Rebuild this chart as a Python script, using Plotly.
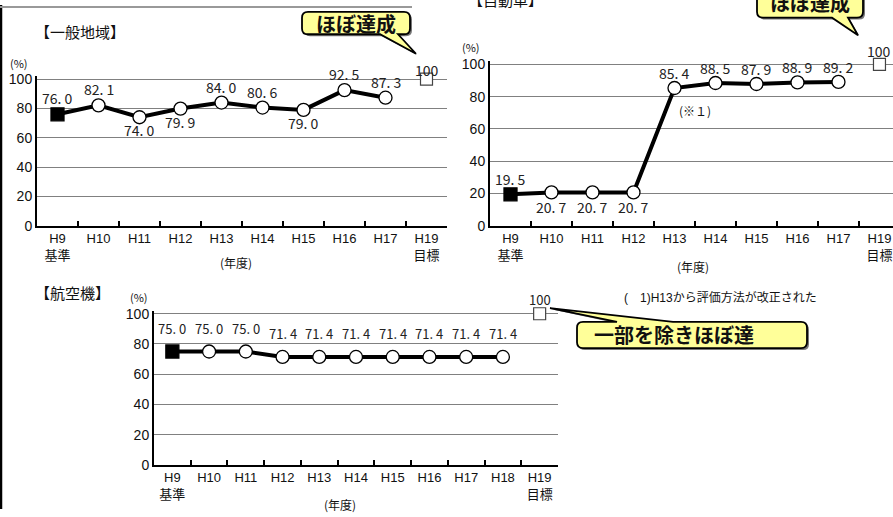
import plotly.graph_objects as go

W, H = 893, 517

# ---------------- data ----------------
cats_a = ["H9<br>基準", "H10", "H11", "H12", "H13", "H14", "H15", "H16", "H17", "H19<br>目標"]
cats_c = ["H9<br>基準", "H10", "H11", "H12", "H13", "H14", "H15", "H16", "H17", "H18", "H19<br>目標"]

ippan_vals = [76.0, 82.1, 74.0, 79.9, 84.0, 80.6, 79.0, 92.5, 87.3]
jidosha_vals = [19.5, 20.7, 20.7, 20.7, 85.4, 88.5, 87.9, 88.9, 89.2]
koku_vals = [75.0, 75.0, 75.0, 71.4, 71.4, 71.4, 71.4, 71.4, 71.4, 71.4]
target_val = 100

# label side: 1 above, -1 below
ippan_side = [1, 1, -1, -1, 1, 1, -1, 1, 1]
jidosha_side = [1, -1, -1, -1, 1, 1, 1, 1, 1]
koku_side = [1] * 10

titles = ["【一般地域】", "【自動車】", "【航空機】"]
callouts = ["ほぼ達成", "ほぼ達成", "一部を除きほぼ達"]
note_text = "(　1)H13から評価方法が改正された"
note_mark = "(※１)"


def px(x):
    return x / W


def py(y):
    return 1 - y / H


fig = go.Figure()

tick_font = dict(family="Liberation Sans, Noto Sans CJK JP", size=13, color="#111")

annotations = []
shapes = []

YMAX = 102.0

panels = [
    # cats, vals, side, xaxis, yaxis, xdom(px), ydom(px y100, y0), xrange, shift, target shift, label size
    (cats_a, ippan_vals, ippan_side, "x", "y", (37, 447), (76, 226.5), None, (16, -13), 9, 14),
    (cats_a, jidosha_vals, jidosha_side, "x2", "y2", (490, 893), (61, 226.5), (-0.5, 9.33), (15, -15), 13, 14),
    (cats_c, koku_vals, koku_side, "x3", "y3", (154, 558), (316.7, 471.7), None, (23, -15), 14, 13),
]

for i, (cats, vals, side, xa, ya, xd, yd, xr, shift, tshift, lsize) in enumerate(panels):
    label_font = dict(family="Noto Sans CJK JP", size=lsize, color="#222")
    n = len(vals)
    symbols = ["square"] + ["circle"] * (n - 1)
    colors = ["black"] + ["white"] * (n - 1)
    fig.add_trace(go.Scatter(
        x=cats[:n], y=vals, xaxis=xa, yaxis=ya, mode="lines+markers",
        line=dict(color="black", width=4),
        marker=dict(symbol=symbols, color=colors, size=13,
                    line=dict(color="black", width=1.3)),
        cliponaxis=False, showlegend=False, hoverinfo="skip"))
    fig.add_trace(go.Scatter(
        x=[cats[-1]], y=[target_val], xaxis=xa, yaxis=ya, mode="markers",
        marker=dict(symbol="square", color="white", size=12,
                    line=dict(color="#444", width=1.2)),
        cliponaxis=False, showlegend=False, hoverinfo="skip"))
    for c, v, s in zip(cats, vals, side):
        annotations.append(dict(x=c, y=v, xref=xa, yref=ya, text=f"{v:.1f}".replace(".", ". "),
                                showarrow=False, yshift=shift[0] if s > 0 else shift[1],
                                font=label_font))
    annotations.append(dict(x=cats[-1], y=target_val, xref=xa, yref=ya, text=str(target_val),
                            showarrow=False, yshift=tshift, font=label_font))

    y100, y0 = yd
    ytop = y0 - (y0 - y100) * YMAX / 100.0
    suffix = "" if i == 0 else str(i + 1)
    fig.layout["xaxis" + suffix] = dict(
        domain=[px(xd[0]), min(1, px(xd[1]))], anchor=ya, type="category",
        categoryorder="array", categoryarray=cats,
        range=list(xr) if xr else [-0.5, len(cats) - 0.5],
        tickson="boundaries", ticks="inside", ticklen=5, tickwidth=2, tickcolor="black",
        showline=True, linecolor="black", linewidth=2, showgrid=False, zeroline=False,
        tickfont=tick_font, fixedrange=True)
    fig.layout["yaxis" + suffix] = dict(
        domain=[py(y0), py(ytop)], anchor=xa, range=[0, YMAX],
        tickvals=[0, 20, 40, 60, 80, 100], showgrid=True, gridcolor="#808080", gridwidth=1,
        showline=True, linecolor="black", linewidth=2, zeroline=False, ticks="",
        tickfont=dict(family="Liberation Sans", size=14, color="#111"), fixedrange=True)


def txt(x, y, t, size=13, bold=False, family="Noto Sans CJK JP", xanchor="center"):
    annotations.append(dict(x=px(x), y=py(y), xref="paper", yref="paper", text=f"<b>{t}</b>" if bold else t,
                            showarrow=False, xanchor=xanchor, yanchor="middle",
                            font=dict(family=family, size=size, color="#111")))


# titles
txt(33, 27, titles[0], size=15, xanchor="left")
txt(466, -6, titles[1], size=15, xanchor="left")
txt(33, 295, titles[2], size=15, xanchor="left")

# (%) labels
txt(19, 59, "(%)", size=11)
txt(471, 43, "(%)", size=11)
txt(139, 300, "(%)", size=11)

# (年度)
txt(236, 264, "(年度)", size=12)
txt(693, 268, "(年度)", size=12)
txt(340, 512, "(年度)", size=12)

# notes
txt(695, 108, note_mark, size=12)
txt(622, 300, note_text, size=12, family="Liberation Sans, Noto Sans CJK JP", xanchor="left")


def bubble(x0, y0, x1, y1, pointer, r=6, edge="bottom"):
    b1, b2, tip = pointer
    P = lambda x, y: f"{px(x):.5f},{py(y):.5f}"
    d = f"M{P(x0 + r, y0)} "
    if edge == "top":
        d += f"L{P(b1, y0)} L{P(*tip)} L{P(b2, y0)} "
    d += f"L{P(x1 - r, y0)} Q{P(x1, y0)} {P(x1, y0 + r)} L{P(x1, y1 - r)} Q{P(x1, y1)} {P(x1 - r, y1)} "
    if edge == "bottom":
        d += f"L{P(b2, y1)} L{P(*tip)} L{P(b1, y1)} "
    d += f"L{P(x0 + r, y1)} Q{P(x0, y1)} {P(x0, y1 - r)} L{P(x0, y0 + r)} Q{P(x0, y0)} {P(x0 + r, y0)} Z"
    return d


bubbles = [
    (302, 7, 410, 30, (380, 398, (416, 50)), "bottom"),
    (757, -15, 863, 13, (832, 848, (858, 31)), "bottom"),
    (577, 325, 807, 352, (617, 673, (550, 311)), "top"),
]
for x0, y0, x1, y1, ptr, edge in bubbles:
    shapes.append(dict(type="path", xref="paper", yref="paper",
                       path=bubble(x0 + 2, y0 + 2, x1 + 2, y1 + 2,
                                   (ptr[0] + 2, ptr[1] + 2, (ptr[2][0] + 1, ptr[2][1] + 1)), edge=edge),
                       fillcolor="#777", line=dict(width=0), layer="above"))
    shapes.append(dict(type="path", xref="paper", yref="paper", path=bubble(x0, y0, x1, y1, ptr, edge=edge),
                       fillcolor="#FFFF99", line=dict(color="black", width=1.8), layer="above"))

txt(356, 19, callouts[0], size=20, bold=True)
txt(810, -3, callouts[1], size=20, bold=True)
txt(592, 338, callouts[2], size=20, bold=True, xanchor="left")

# page frame lines
shapes.append(dict(type="line", xref="paper", yref="paper", x0=px(1), x1=px(1), y0=0, y1=1,
                   line=dict(color="black", width=2.5)))
shapes.append(dict(type="line", xref="paper", yref="paper", x0=0, x1=px(412), y0=py(2), y1=py(2),
                   line=dict(color="#999", width=2)))

fig.update_layout(width=W, height=H, margin=dict(l=0, r=0, t=0, b=0),
                  paper_bgcolor="white", plot_bgcolor="white",
                  annotations=annotations, shapes=shapes, showlegend=False)

fig.write_html("out.html", config={"displayModeBar": False})
